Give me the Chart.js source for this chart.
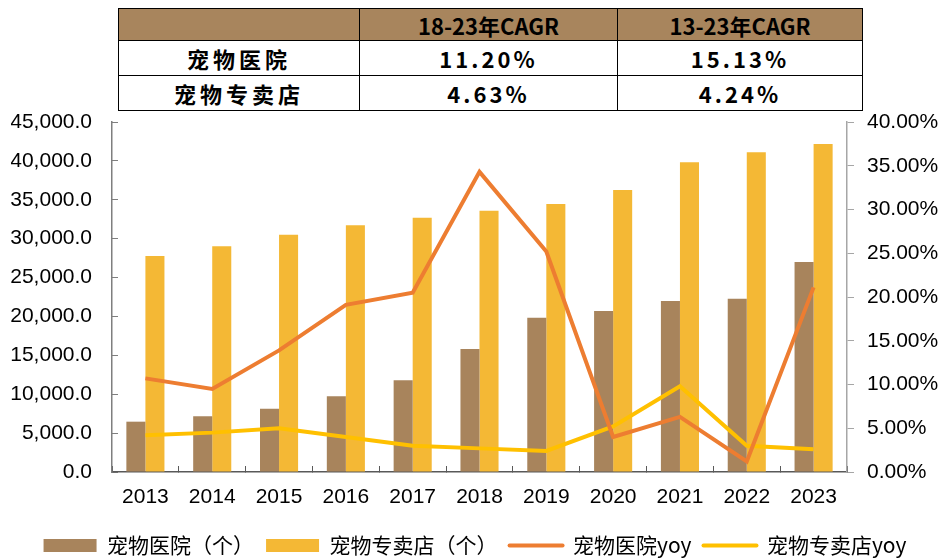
<!DOCTYPE html>
<html><head><meta charset="utf-8">
<script src="https://cdn.jsdelivr.net/npm/chart.js@4"></script>
<style>
body{margin:0;width:942px;height:558px;overflow:hidden;background:#fff;position:relative;}
#wrap{position:absolute;left:0;top:0;width:942px;height:558px;}
table{position:absolute;left:118px;top:8px;border-collapse:collapse;font-family:"Noto Sans CJK SC";font-weight:bold;font-size:22px;color:#000;z-index:2;background:#fff;}
td{border:1.5px solid #000;text-align:center;padding:0;line-height:1;}
tr.h td{background:#A8855D;height:31px;}
tr.r td{height:34px;}
td.num{letter-spacing:3px;}
td.name{letter-spacing:4px;}
</style></head>
<body>
<div id="wrap"><canvas id="c" width="942" height="558"></canvas></div>
<table id="t"></table>
<script>
const categories = ['2013','2014','2015','2016','2017','2018','2019','2020','2021','2022','2023'];
const hospitals = [6470, 7160, 8140, 9730, 11790, 15810, 19840, 20700, 21980, 22280, 27000];
const stores = [27770, 29010, 30510, 31710, 32690, 33590, 34450, 36250, 39810, 41100, 42160];
const hospitalYoy = [10.7, 9.5, 13.9, 19.1, 20.5, 34.3, 25.2, 4.0, 6.3, 1.2, 21.1];
const storeYoy = [4.2, 4.5, 5.0, 4.0, 3.0, 2.7, 2.4, 5.2, 9.8, 3.0, 2.6];
const seriesNames = ['宠物医院（个）','宠物专卖店（个）','宠物医院yoy','宠物专卖店yoy'];
const tableHeader = ['', '18-23年CAGR', '13-23年CAGR'];
const tableRowNames = ['宠物医院','宠物专卖店'];
const cagr1823 = ['11.20%','4.63%'];
const cagr1323 = ['15.13%','4.24%'];

// table
const t = document.getElementById('t');
const colW = [240, 257, 244];
let html = '<tr class="h">' + tableHeader.map((h,i)=>`<td style="width:${colW[i]}px">${h}</td>`).join('') + '</tr>';
tableRowNames.forEach((n,i)=>{
  html += `<tr class="r"><td class="name">${n}</td><td class="num">${cagr1823[i]}</td><td class="num">${cagr1323[i]}</td></tr>`;
});
t.innerHTML = html;

const tickFont = {family:'Liberation Sans', size:21};
new Chart(document.getElementById('c'), {
  data: {
    labels: categories,
    datasets: [
      {type:'bar', label:seriesNames[0], data:hospitals, backgroundColor:'#A8845C', yAxisID:'y', order:2,
       categoryPercentage:0.57, barPercentage:1.0},
      {type:'bar', label:seriesNames[1], data:stores, backgroundColor:'#F4B835', yAxisID:'y', order:2,
       categoryPercentage:0.57, barPercentage:1.0},
      {type:'line', label:seriesNames[2], data:hospitalYoy, borderColor:'#ED7D31', backgroundColor:'#ED7D31', borderWidth:4,
       pointRadius:0, tension:0, yAxisID:'y1', order:1},
      {type:'line', label:seriesNames[3], data:storeYoy, borderColor:'#FFC000', backgroundColor:'#FFC000', borderWidth:4,
       pointRadius:0, tension:0, yAxisID:'y1', order:1}
    ]
  },
  options: {
    responsive:false, animation:false,
    layout:{padding:{top:122, left:11, right:3, bottom:-8}},
    plugins:{
      tooltip:{enabled:false},
      legend:{
        position:'bottom',
        labels:{
          usePointStyle:true, pointStyleWidth:53, boxHeight:13, padding:12,
          font:{family:'Noto Sans CJK SC', size:21}, color:'#000',
          generateLabels(chart){
            return chart.data.datasets.map((ds,i)=>({
              text: ds.label,
              fillStyle: ds.type==='line' ? ds.borderColor : ds.backgroundColor,
              strokeStyle: ds.type==='line' ? ds.borderColor : ds.backgroundColor,
              lineWidth: ds.type==='line' ? 4 : 0,
              lineCap:'round',
              pointStyle: ds.type==='line' ? 'line' : 'rect',
              hidden:false, datasetIndex:i, fontColor:'#000'
            }));
          }
        }
      }
    },
    scales:{
      x:{
        grid:{display:true, drawOnChartArea:false, drawTicks:true, tickLength:-6, color:'#595959', offset:true},
        border:{display:true, color:'#595959', width:1.5},
        ticks:{color:'#000', font:tickFont, padding:19},
        afterFit:s=>{ s.height = 51; }
      },
      y:{
        position:'left', min:0, max:45000,
        grid:{drawOnChartArea:false, drawTicks:true, tickLength:-6, color:'#7f7f7f'},
        border:{display:true, color:'#7f7f7f', width:1.5},
        ticks:{stepSize:5000, color:'#000', font:tickFont, padding:26,
          callback:v=>v.toLocaleString('en-US',{minimumFractionDigits:1, maximumFractionDigits:1})},
        afterFit:s=>{ s.width = 101; }
      },
      y1:{
        position:'right', min:0, max:40,
        grid:{drawOnChartArea:false, drawTicks:true, tickLength:7, color:'#a6a6a6'},
        border:{display:true, color:'#a6a6a6', width:1.5},
        ticks:{stepSize:5, color:'#000', font:tickFont, padding:13, callback:v=>v.toFixed(2)+'%'},
        afterFit:s=>{ s.width = 92; }
      }
    }
  }
});
</script>
</body></html>
